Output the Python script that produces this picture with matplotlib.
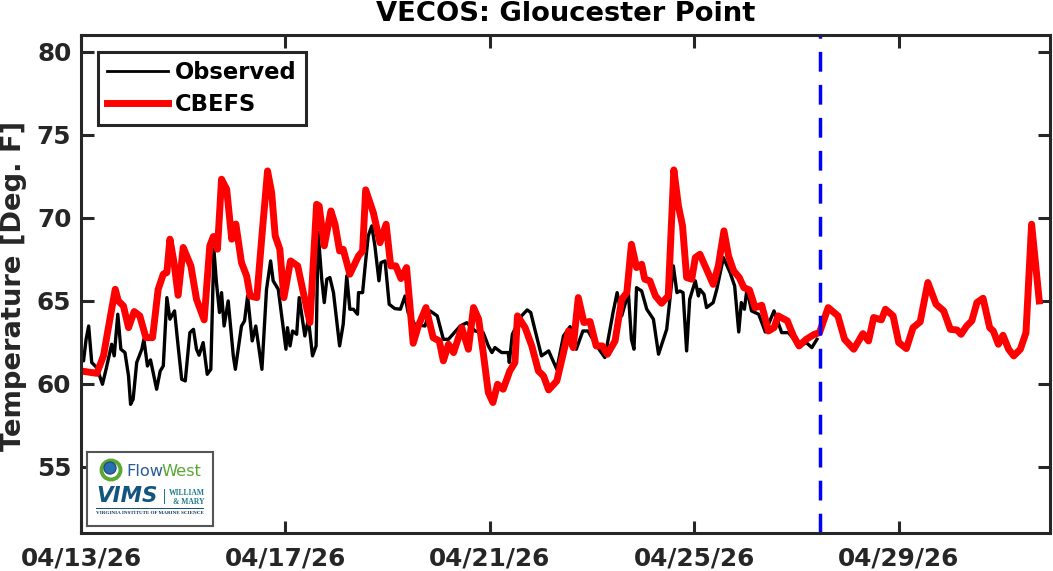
import matplotlib
matplotlib.use('Agg')
import matplotlib.pyplot as plt
from matplotlib.patches import Rectangle, Circle

# days since 04/13/26
obs_days = [0,.05,.10,.15,.21,.31,.42,.49,.60,.65,.72,.78,.86,.93,.97,1.02,1.09,1.19,1.23,1.30,1.36,1.48,1.55,1.61,1.68,1.74,1.83,1.90,1.97,2.04,
            2.13,2.20,2.26,2.31,2.39,2.47,2.54,2.60,2.65,2.71,2.75,2.80,2.88,2.98,3.02,3.14,3.20,3.26,3.35,3.42,3.54,3.63,3.71,3.76,3.86,4.01,4.04,4.09,4.14,4.22,
            4.27,4.38,4.45,4.53,4.60,4.64,4.71,4.76,4.81,4.87,4.94,5.06,5.13,5.20,5.26,5.33,5.41,5.43,5.51,5.56,5.62,5.69,5.75,5.83,5.87,5.95,6.03,6.14,6.25,6.34,
            6.40,6.53,6.73,6.83,6.97,7.09,7.19,7.42,7.55,7.71,7.87,7.97,8.04,8.10,8.23,8.36,8.38,8.44,8.62,8.73,8.80,8.88,9.01,9.15,9.31,9.44,9.57,9.69,9.82,9.92,
            10.09,10.25,10.41,10.49,10.58,10.71,10.77,10.82,10.87,10.97,11.07,11.20,11.30,11.46,11.53,11.59,11.66,11.72,11.78,11.85,11.91,12.02,12.08,12.11,12.19,12.24,12.37,12.44,12.57,12.70,
            12.79,12.87,12.92,12.98,13.03,13.12,13.26,13.39,13.56,13.71,13.84,14.07,14.19,14.30,14.40]
obs_temp = [62.07,61.37,62.67,63.47,61.27,60.96,59.96,60.86,62.37,61.67,64.18,62.07,61.87,60.46,58.75,59.06,61.27,62.07,62.67,61.06,61.43,59.66,60.76,61.06,65.18,63.88,64.38,62.27,60.26,60.16,
            63.07,63.27,62.07,61.71,62.47,60.56,60.86,68.09,66.09,64.28,65.48,63.47,64.98,61.67,60.86,63.47,63.78,65.28,62.57,63.47,60.86,65.68,67.39,66.19,65.68,62.07,63.37,62.27,63.17,62.97,
            65.18,62.87,63.88,61.67,62.27,69.10,66.29,64.88,66.29,66.39,65.48,62.27,63.57,66.49,64.48,64.48,64.18,65.48,65.48,67.09,68.90,69.50,68.30,66.19,67.29,67.39,64.78,64.52,64.48,65.28,
            64.28,63.57,63.47,64.38,64.08,62.67,62.67,63.47,63.67,63.17,63.07,62.27,61.87,62.17,61.87,61.87,61.27,62.97,64.08,64.44,64.28,63.27,61.67,61.97,60.86,62.87,63.43,62.07,63.17,63.17,
            62.27,61.57,64.28,65.48,64.08,65.48,62.67,62.07,65.78,65.58,64.48,63.88,61.77,63.27,65.28,67.09,65.48,65.58,65.48,61.97,65.08,66.19,65.28,65.68,65.38,64.58,64.88,65.68,67.59,66.69,
            65.88,63.11,64.88,64.48,65.68,64.38,64.18,63.11,64.38,63.07,63.07,62.27,62.47,62.17,62.67]

model_days = [0,.31,.44,.53,.67,.73,.83,.93,1.04,1.15,1.27,1.40,1.51,1.61,1.68,1.74,1.82,1.90,2.00,2.15,2.26,2.41,2.52,2.59,2.67,2.75,2.85,2.95,3.03,3.14,
              3.24,3.31,3.44,3.54,3.65,3.73,3.80,3.89,3.97,4.10,4.24,4.35,4.48,4.61,4.66,4.76,4.89,4.97,5.06,5.13,5.26,5.43,5.51,5.57,5.72,5.85,5.97,6.06,6.16,6.26,
              6.37,6.50,6.60,6.75,6.89,7.01,7.09,7.19,7.29,7.45,7.58,7.68,7.78,7.87,7.97,8.06,8.15,8.26,8.39,8.49,8.54,8.69,8.82,8.95,9.05,9.15,9.31,9.44,9.54,9.63,
              9.73,9.84,9.96,10.08,10.20,10.30,10.45,10.58,10.68,10.77,10.87,10.97,11.03,11.13,11.24,11.36,11.49,11.60,11.69,11.77,11.85,11.95,12.02,12.11,12.24,12.37,12.47,12.58,12.67,12.77,
              12.88,12.97,13.08,13.19,13.32,13.45,13.56,13.64,13.82,13.94,14.05,14.19,14.35,14.45,14.62,14.81,14.94,15.12,15.30,15.41,15.51,15.66,15.74,15.89,16.00,16.15,16.28,16.42,16.57,16.73,
              16.88,17.01,17.14,17.22,17.33,17.43,17.53,17.65,17.78,17.85,17.95,18.04,18.15,18.25,18.38,18.49,18.60,18.75]
model_temp = [60.76,60.62,61.67,63.27,65.68,64.98,64.68,63.37,64.34,64.08,62.77,62.77,65.68,66.59,66.69,68.70,67.29,65.32,68.20,67.09,65.08,63.84,68.30,68.86,68.10,72.31,71.71,68.70,69.61,67.29,
              66.49,65.28,65.18,68.90,72.81,71.51,68.90,68.10,65.18,67.39,67.09,65.48,63.68,70.80,70.70,68.30,70.40,69.60,67.99,68.09,66.59,67.69,67.99,71.67,70.30,68.49,69.60,67.09,67.09,66.33,
              66.99,62.43,63.47,64.58,62.77,62.57,61.37,62.37,61.87,63.37,62.07,64.58,63.88,61.87,59.46,58.86,59.96,59.66,60.76,61.27,64.08,63.37,62.27,60.76,60.46,59.62,60.16,61.87,63.17,62.17,
              65.18,63.68,63.74,62.27,62.27,61.77,62.57,65.08,65.48,68.39,66.99,67.19,66.29,66.19,65.28,64.84,65.28,72.87,70.70,69.50,66.39,66.29,67.59,67.79,66.89,65.98,67.09,69.20,67.69,66.79,
              66.39,65.78,65.64,64.58,64.72,63.17,63.37,64.08,63.78,62.87,62.27,62.67,62.97,63.07,64.58,64.08,62.67,62.07,63.01,62.57,63.98,63.84,64.48,64.08,62.47,62.11,63.37,63.72,66.09,64.78,
              64.38,63.27,63.23,62.97,63.47,63.78,64.88,65.14,63.37,63.17,62.37,62.91,62.07,61.67,62.07,63.07,69.60,64.98]

forecast_start = 14.46
tick_days = [0, 4, 8, 12, 16]
tick_labels = ['04/13/26', '04/17/26', '04/21/26', '04/25/26', '04/29/26']
y_ticks = [55, 60, 65, 70, 75, 80]

W, H = 1053, 571
DARK = '#262626'
plt.rcParams['font.family'] = 'DejaVu Sans'
plt.rcParams['font.weight'] = 'bold'

fig = plt.figure(figsize=(W / 100, H / 100), dpi=100)
ax = fig.add_axes([81 / W, 1 - 533 / H, (1050 - 81) / W, (533 - 35) / H])

ax.plot(obs_days, obs_temp, color='k', lw=2.4, label='Observed')
ax.plot(model_days, model_temp, color='r', lw=5, label='CBEFS')
ax.plot([forecast_start, forecast_start], [51, 81], color='#0000ff', lw=2.5,
        dashes=(5.7, 3.8), dash_capstyle='butt')

ax.set_xlim(0, 18.96)
ax.set_ylim(51, 81)
ax.set_xticks(tick_days)
ax.set_xticklabels(tick_labels)
ax.set_yticks(y_ticks)
ax.tick_params(direction='in', length=9, width=2.2, top=True, right=True,
               labelsize=17.8, colors=DARK)
ax.tick_params(axis='x', pad=10)
ax.tick_params(axis='y', pad=7)
for s in ax.spines.values():
    s.set_linewidth(2.2)
    s.set_color(DARK)

ax.set_title('VECOS: Gloucester Point', fontsize=19.7, fontweight='bold', pad=10)
ax.set_ylabel('Temperature [Deg. F]', fontsize=19.7, fontweight='bold', color=DARK)
ax.yaxis.set_label_coords(-0.0558, 0.497)

leg = ax.legend(loc='upper left', bbox_to_anchor=(0.0175, 0.966), borderaxespad=0,
                fontsize=16.3, fancybox=False, framealpha=1, edgecolor=DARK,
                handlelength=2.7, handletextpad=0.3, labelspacing=0.4, borderpad=0.4)
leg.get_frame().set_linewidth(2.2)
leg.get_lines()[0].set_linewidth(2)
for t in leg.get_texts():
    t.set_color('k')

# logo block
logo = fig.add_axes([87 / W, 1 - 526 / H, 126 / W, 74 / H])
logo.set_xlim(0, 126)
logo.set_ylim(74, 0)
logo.set_xticks([])
logo.set_yticks([])
for s in logo.spines.values():
    s.set_linewidth(1.5)
    s.set_color('#555555')
logo.add_patch(Circle((24, 18), 9.5, fc='white', ec='#5aa832', lw=2.8))
logo.add_patch(Circle((23, 16), 6, fc='#2a6fb0', ec='#1b4f86', lw=1))
logo.text(39, 20, 'Flow', color='#2b5c9a', fontsize=11.7, fontweight='normal', va='center')
logo.text(74, 20, 'West', color='#5aa832', fontsize=11.7, fontweight='normal', va='center')
logo.text(9, 44, 'VIMS', color='#14557f', fontsize=15.5, fontweight='bold', style='italic', va='center')
logo.add_patch(Rectangle((77, 37), 0.8, 15, fc='#1d7a8a', ec='none'))
logo.text(82, 41, 'WILLIAM', color='#1d7a8a', fontsize=5.5, family='Liberation Serif', va='center')
logo.text(86, 50, '& MARY', color='#1d7a8a', fontsize=5.5, family='Liberation Serif', va='center')
logo.text(63, 61, 'VIRGINIA INSTITUTE OF MARINE SCIENCE', color='#123a5f', fontsize=3.7,
          family='Liberation Serif', ha='center', va='center')
logo.add_patch(Rectangle((9, 56), 108, 0.8, fc='#14557f', ec='none'))

fig.savefig('out.png', dpi=100)
